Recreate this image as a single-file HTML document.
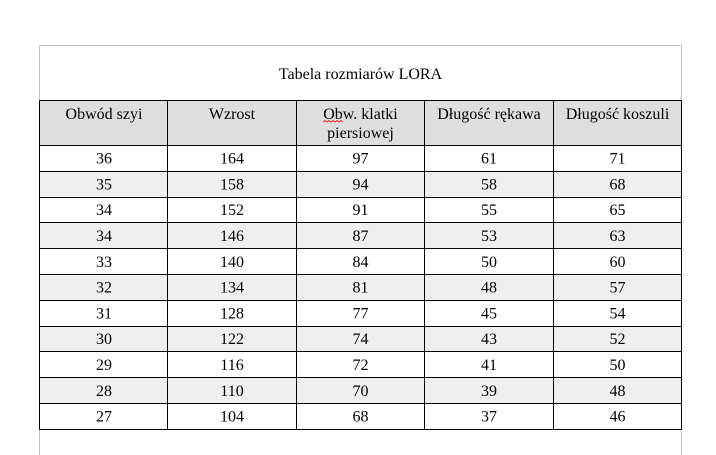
<!DOCTYPE html>
<html>
<head>
<meta charset="utf-8">
<style>
  html, body { margin: 0; padding: 0; background: #ffffff; }
  body { width: 716px; height: 455px; overflow: hidden; }
  svg { display: block; }
  text { font-family: "Liberation Serif", "Times New Roman", serif; font-size: 16px; fill: #000; }
</style>
</head>
<body>
<svg width="716" height="455" viewBox="0 0 716 455" xmlns="http://www.w3.org/2000/svg">
  <!-- outer gray frame -->
  <line x1="39.5" y1="45.5" x2="681.5" y2="45.5" stroke="#c3c3c3" stroke-width="1"/>
  <line x1="39.5" y1="45.5" x2="39.5" y2="455" stroke="#c3c3c3" stroke-width="1"/>
  <line x1="681.5" y1="45.5" x2="681.5" y2="455" stroke="#c3c3c3" stroke-width="1"/>

  <!-- title -->
  <text x="360.5" y="79" text-anchor="middle">Tabela rozmiarów LORA</text>

  <!-- header fill -->
  <rect x="39.5" y="100.5" width="642" height="45" fill="#dedede"/>
  <!-- striped rows -->
  <rect x="39.5" y="171.5" width="642" height="25.8" fill="#efefef"/>
  <rect x="39.5" y="223.1" width="642" height="25.8" fill="#efefef"/>
  <rect x="39.5" y="274.7" width="642" height="25.8" fill="#efefef"/>
  <rect x="39.5" y="326.3" width="642" height="25.8" fill="#efefef"/>
  <rect x="39.5" y="377.9" width="642" height="25.8" fill="#efefef"/>

  <!-- table grid -->
  <g stroke="#000" stroke-width="1.2" fill="none" shape-rendering="crispEdges">
    <line x1="39.5" y1="100.5" x2="681.5" y2="100.5"/>
    <line x1="39.5" y1="145.5" x2="681.5" y2="145.5"/>
    <line x1="39.5" y1="171.5" x2="681.5" y2="171.5"/>
    <line x1="39.5" y1="197.5" x2="681.5" y2="197.5"/>
    <line x1="39.5" y1="222.5" x2="681.5" y2="222.5"/>
    <line x1="39.5" y1="248.5" x2="681.5" y2="248.5"/>
    <line x1="39.5" y1="274.5" x2="681.5" y2="274.5"/>
    <line x1="39.5" y1="300.5" x2="681.5" y2="300.5"/>
    <line x1="39.5" y1="326.5" x2="681.5" y2="326.5"/>
    <line x1="39.5" y1="351.5" x2="681.5" y2="351.5"/>
    <line x1="39.5" y1="377.5" x2="681.5" y2="377.5"/>
    <line x1="39.5" y1="403.5" x2="681.5" y2="403.5"/>
    <line x1="39.5" y1="429.5" x2="681.5" y2="429.5"/>

    <line x1="39.5" y1="100.5" x2="39.5" y2="429.5"/>
    <line x1="167.5" y1="100.5" x2="167.5" y2="429.5"/>
    <line x1="296.5" y1="100.5" x2="296.5" y2="429.5"/>
    <line x1="424.5" y1="100.5" x2="424.5" y2="429.5"/>
    <line x1="553.5" y1="100.5" x2="553.5" y2="429.5"/>
    <line x1="681.5" y1="100.5" x2="681.5" y2="429.5"/>
  </g>

  <!-- header text -->
  <text x="104" y="119" text-anchor="middle">Obwód szyi</text>
  <text x="232" y="119" text-anchor="middle">Wzrost</text>
  <text x="360.5" y="119" text-anchor="middle">Obw. klatki</text>
  <text x="360.5" y="138" text-anchor="middle">piersiowej</text>
  <text x="489" y="119" text-anchor="middle">Długość rękawa</text>
  <text x="617.5" y="119" text-anchor="middle">Długość koszuli</text>
  <!-- red spell-check squiggle under "Obw." -->
  <polyline points="323,122 325,120.5 327,122 329,120.5 331,122 333,120.5 335,122 337,120.5 339,122 341,120.5 343,122" fill="none" stroke="#e02020" stroke-width="0.9"/>

  <!-- body rows -->
  <g text-anchor="middle">
    <text x="104" y="163.6">36</text><text x="232" y="163.6">164</text><text x="360.5" y="163.6">97</text><text x="489" y="163.6">61</text><text x="617.5" y="163.6">71</text>
    <text x="104" y="189.4">35</text><text x="232" y="189.4">158</text><text x="360.5" y="189.4">94</text><text x="489" y="189.4">58</text><text x="617.5" y="189.4">68</text>
    <text x="104" y="215.2">34</text><text x="232" y="215.2">152</text><text x="360.5" y="215.2">91</text><text x="489" y="215.2">55</text><text x="617.5" y="215.2">65</text>
    <text x="104" y="241">34</text><text x="232" y="241">146</text><text x="360.5" y="241">87</text><text x="489" y="241">53</text><text x="617.5" y="241">63</text>
    <text x="104" y="266.8">33</text><text x="232" y="266.8">140</text><text x="360.5" y="266.8">84</text><text x="489" y="266.8">50</text><text x="617.5" y="266.8">60</text>
    <text x="104" y="292.6">32</text><text x="232" y="292.6">134</text><text x="360.5" y="292.6">81</text><text x="489" y="292.6">48</text><text x="617.5" y="292.6">57</text>
    <text x="104" y="318.4">31</text><text x="232" y="318.4">128</text><text x="360.5" y="318.4">77</text><text x="489" y="318.4">45</text><text x="617.5" y="318.4">54</text>
    <text x="104" y="344.2">30</text><text x="232" y="344.2">122</text><text x="360.5" y="344.2">74</text><text x="489" y="344.2">43</text><text x="617.5" y="344.2">52</text>
    <text x="104" y="370">29</text><text x="232" y="370">116</text><text x="360.5" y="370">72</text><text x="489" y="370">41</text><text x="617.5" y="370">50</text>
    <text x="104" y="395.8">28</text><text x="232" y="395.8">110</text><text x="360.5" y="395.8">70</text><text x="489" y="395.8">39</text><text x="617.5" y="395.8">48</text>
    <text x="104" y="421.6">27</text><text x="232" y="421.6">104</text><text x="360.5" y="421.6">68</text><text x="489" y="421.6">37</text><text x="617.5" y="421.6">46</text>
  </g>
</svg>
</body>
</html>
